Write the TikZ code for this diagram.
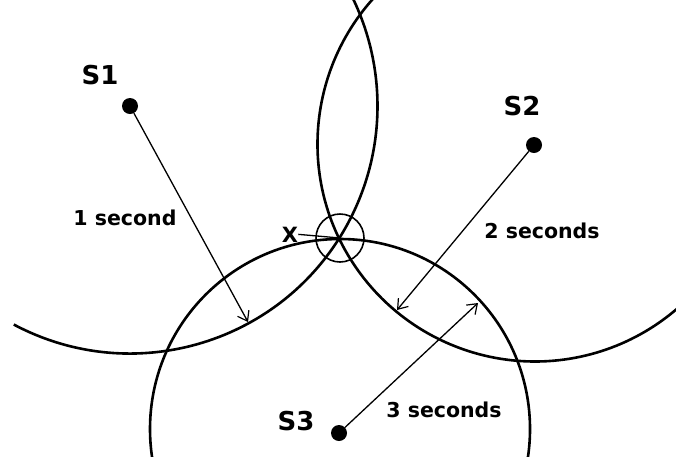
\documentclass[tikz,border=0pt]{standalone}
\usepackage{fontspec}
\setmainfont{DejaVu Sans}
\usetikzlibrary{arrows.meta}
\begin{document}
\begin{tikzpicture}[x=1pt,y=-1pt,
  wave/.style={line width=2.6pt},
  ray/.style={line width=1.3pt,-{Straight Barb[length=9pt,width=13pt,line width=1.2pt]}},
  src/.style={circle,fill=black,inner sep=0pt,minimum size=16pt},
  lab/.style={font=\bfseries\fontsize{26}{26}\selectfont,anchor=base,inner sep=0pt},
  tlab/.style={font=\bfseries\fontsize{20.5}{20.5}\selectfont,anchor=base,inner sep=0pt}]
\useasboundingbox (0,0) rectangle (676,456);
\coordinate (c1) at (130,106);
\coordinate (c2) at (535,144);
\coordinate (c3) at (340,429);
\coordinate (x0) at (340,238);
\begin{scope}
\clip (0,0) rectangle (676,456);
\draw[wave] (c1) ++(118:247.5) arc[start angle=118,end angle=-40,radius=247.5];
\draw[wave] (c2) ++(235:217.5) arc[start angle=235,end angle=40,radius=217.5];
\draw[wave] (c3) circle[radius=190];
\end{scope}
\node[draw,circle,line width=1.6pt,minimum size=48pt,inner sep=0pt] (xc) at (x0) {};
\node[src] (s1) at (130,106) {};
\node[src] (s2) at (534,145) {};
\node[src] (s3) at (339,433) {};
\coordinate (t1) at (248,322);
\coordinate (t2) at (397,310);
\coordinate (t3) at (478,303);
\draw[ray] (s1) -- (t1);
\draw[ray] (s2) -- (t2);
\draw[ray] (s3) -- (t3);
\node[lab] (l1) at (100,84) {S1};
\node[lab] (l2) at (522,115) {S2};
\node[lab] (l3) at (296,430) {S3};
\node[tlab] (d1) at (125,225) {1 second};
\node[tlab] (d2) at (542,238) {2 seconds};
\node[tlab] (d3) at (444,417) {3 seconds};
\node[font=\bfseries\fontsize{21}{21}\selectfont,anchor=base,inner sep=0pt] (xl) at (290,242) {X};
\draw[line width=1.3pt] (xl.east) -- (x0);
\end{tikzpicture}
\end{document}
